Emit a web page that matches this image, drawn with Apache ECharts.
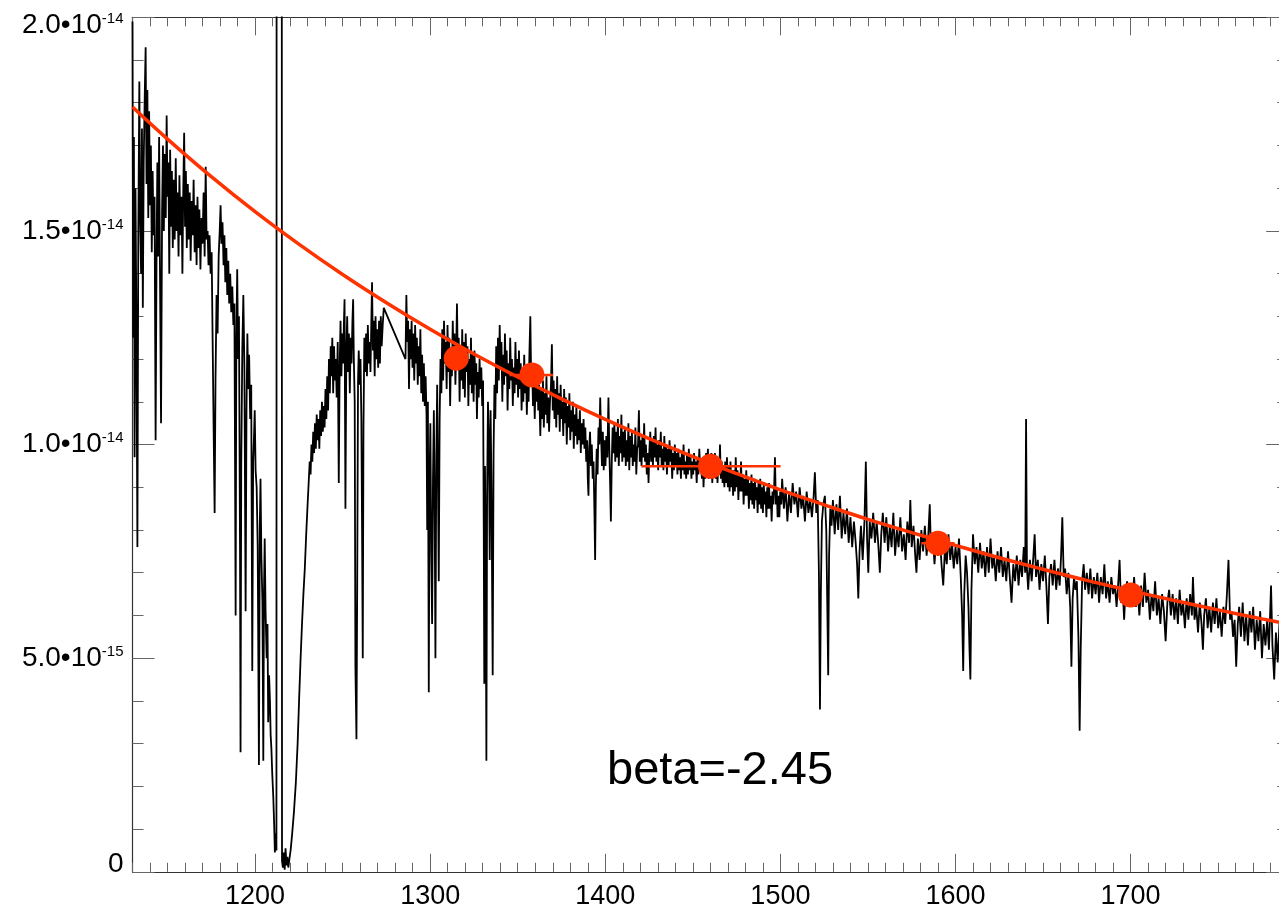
<!DOCTYPE html>
<html><head><meta charset="utf-8">
<script src="https://cdn.jsdelivr.net/npm/echarts@6/dist/echarts.min.js"></script>
<style>html,body{margin:0;padding:0;background:#fff}#c{width:1279px;height:913px}</style>
</head><body><div id="c"></div>
<script>
// ---- axis ranges / tick labels ----
const xMin = 1130, xMax = 1790;
const yMin = 0, yMax = 20;                 // flux in units of 1e-15
const xMajorTicks = [1200, 1300, 1400, 1500, 1600, 1700];
const yTickValues = [0, 5, 10, 15, 20];
const yTickMantissa = ['0', '5.0', '1.0', '1.5', '2.0'];
const yTickExponent = ['', '-15', '-14', '-14', '-14'];
const annotation = 'beta=-2.45';

// ---- spectrum (wavelength, flux/1e-15) ----
const specBlue = [[1130.0,19.9],[1130.4,12.5],[1130.8,17.2],[1131.2,9.7],[1131.7,16.0],[1132.2,13.0],[1132.8,7.6],[1133.3,14.8],[1133.9,18.5],[1134.4,15.2],[1134.9,14.0],[1135.4,17.4],[1135.9,13.2],[1136.4,16.6],[1137.0,18.2],[1137.5,19.3],[1138.0,16.1],[1138.5,18.3],[1139.0,15.3],[1139.5,17.8],[1140.0,15.6],[1140.5,17.0],[1141.0,14.5],[1141.5,16.4],[1142.0,14.9],[1142.6,15.8],[1143.2,10.1],[1143.7,14.2],[1144.2,16.6],[1144.7,14.4],[1145.2,17.2],[1145.7,14.0],[1146.3,10.5],[1146.9,15.5],[1147.4,17.0],[1147.9,15.0],[1148.4,16.8],[1149.0,15.3],[1149.5,17.7],[1150.0,15.8],[1150.5,16.6],[1151.0,14.0],[1151.5,16.9],[1152.0,15.1],[1152.5,16.4],[1153.0,14.6],[1153.6,16.2],[1154.1,14.8],[1154.7,16.7],[1155.2,15.0],[1155.7,15.9],[1156.3,14.4],[1156.8,16.3],[1157.4,14.9],[1158.0,15.8],[1158.5,14.0],[1159.0,16.0],[1159.5,17.3],[1160.0,15.1],[1160.5,16.4],[1161.0,14.6],[1161.6,16.1],[1162.1,14.8],[1162.7,15.9],[1163.2,14.3],[1163.8,15.7],[1164.4,14.9],[1164.9,16.2],[1165.5,14.5],[1166.0,15.6],[1166.6,14.2],[1167.1,15.8],[1167.7,14.6],[1168.2,15.5],[1168.8,14.1],[1169.4,15.3],[1170.0,14.7],[1170.6,15.9],[1171.2,14.4],[1171.8,16.5],[1172.3,14.8],[1172.9,15.0],[1173.4,14.2],[1174.0,14.9],[1174.6,14.0],[1175.2,14.5],[1175.8,12.3],[1176.4,10.1],[1176.9,8.4],[1177.4,11.5],[1178.0,13.5],[1178.6,12.6],[1179.2,14.4],[1179.8,15.0],[1180.3,15.6],[1180.8,14.7],[1181.4,15.2],[1182.0,14.2],[1182.5,14.9],[1183.0,13.8],[1183.6,14.6],[1184.1,13.5],[1184.7,14.3],[1185.2,13.3],[1185.8,14.0],[1186.4,13.1],[1187.0,13.7],[1187.6,12.8],[1188.2,13.3],[1188.9,6.0],[1189.3,12.5],[1189.8,14.1],[1190.3,12.0],[1190.8,13.0],[1191.4,7.5],[1191.7,2.8],[1192.1,9.5],[1192.7,12.2],[1193.3,13.5],[1193.9,11.8],[1194.6,6.1],[1195.1,10.8],[1195.6,12.6],[1196.1,11.3],[1196.6,12.1],[1197.2,10.6],[1197.8,11.4],[1198.4,4.7],[1198.9,9.6],[1199.4,10.2],[1199.8,10.8],[1200.3,9.4],[1200.9,9.0],[1201.5,7.6],[1202.2,2.5],[1202.7,8.1],[1203.1,9.2],[1203.6,7.4],[1204.2,6.3],[1204.7,2.6],[1205.1,6.6],[1205.5,7.8],[1206.0,6.1],[1206.6,5.0],[1207.1,5.8],[1207.5,3.5],[1208.0,4.6],[1208.5,4.0],[1208.9,3.2],[1209.3,2.9],[1209.8,2.3],[1210.4,1.75],[1210.9,1.1],[1211.3,0.45],[1211.8,0.9],[1212.2,0.5]];

const specLya = [[1212.4,45],[1215.1,45],[1215.4,0.25],[1215.9,0.1],[1216.4,0.45],[1216.9,0.05],[1217.4,0.55],[1217.9,0.15],[1218.4,0.35],[1219.0,0.1],[1219.6,0.3],[1220.3,0.5],[1221.2,0.9],[1222.2,1.4],[1223.3,2.1],[1224.3,3.0],[1225.2,4.1],[1226.0,5.0],[1226.8,5.8],[1227.6,6.5],[1228.4,7.1],[1229.2,7.9],[1230.0,8.6],[1230.6,9.1],[1231.2,9.6],[1231.7,9.3],[1232.2,10.0],[1232.7,9.6],[1233.2,10.3],[1233.7,9.8],[1234.2,10.5],[1234.7,9.9],[1235.2,10.7],[1235.7,10.1],[1236.2,10.6],[1236.7,9.9],[1237.2,10.8],[1237.7,10.2],[1238.2,11.0],[1238.7,10.3],[1239.2,10.9],[1239.7,10.4],[1240.2,11.3],[1240.7,10.6],[1241.2,11.6],[1241.7,10.8],[1242.2,12.0],[1242.7,11.2],[1243.2,12.3]];

const specMid = [[1243.6,11.6],[1244.1,12.5],[1244.6,11.2],[1245.1,12.3],[1245.6,11.5],[1246.1,12.0],[1246.6,11.1],[1247.2,12.4],[1247.8,9.1],[1248.3,11.8],[1248.8,12.9],[1249.3,11.6],[1249.8,12.6],[1250.3,11.9],[1250.7,12.8],[1251.1,13.4],[1251.6,8.5],[1252.1,12.1],[1252.6,13.0],[1253.1,11.7],[1253.6,12.6],[1254.1,11.2],[1254.6,12.5],[1255.1,11.9],[1255.6,12.9],[1256.0,13.4],[1256.4,12.0],[1256.9,11.0],[1257.3,4.8],[1257.9,3.1],[1258.3,6.5],[1258.8,11.5],[1259.2,12.2],[1259.7,11.4],[1260.2,12.0],[1260.7,10.6],[1261.1,8.0],[1261.5,5.0],[1261.9,10.4],[1262.4,12.5],[1262.9,11.7],[1263.4,12.6],[1263.9,11.6],[1264.4,12.8],[1264.9,11.9],[1265.4,12.4],[1265.9,11.7],[1266.4,12.9],[1266.8,13.8],[1267.3,12.2],[1267.8,12.9],[1268.3,11.6],[1268.8,13.0],[1269.3,12.0],[1269.8,12.7],[1270.3,11.8],[1270.8,12.9],[1271.3,11.9],[1271.8,13.0],[1272.3,12.3],[1272.9,12.8],[1273.5,13.2],[1285.9,12.0],[1286.4,13.5],[1286.9,12.4],[1287.4,12.9],[1287.9,11.3],[1288.4,12.7],[1288.9,12.0],[1289.4,12.9],[1289.9,11.8],[1290.4,12.6],[1290.9,11.5],[1291.4,12.8],[1291.9,11.9],[1292.4,12.5],[1292.9,11.4],[1293.4,12.3],[1293.9,11.6],[1294.4,12.7],[1294.9,11.2],[1295.4,12.1],[1295.9,11.0],[1296.4,11.9],[1296.9,10.9],[1297.4,11.6],[1297.9,10.7],[1298.3,8.0],[1298.7,11.0],[1299.2,4.2],[1299.6,9.0],[1300.1,10.5],[1300.6,7.5],[1301.1,5.8],[1301.6,9.2],[1302.1,10.8],[1302.6,8.2],[1303.0,5.0],[1303.5,9.7],[1304.0,11.4],[1304.5,8.9],[1304.9,6.8],[1305.4,10.6],[1305.9,12.0],[1306.4,11.2],[1306.9,12.7],[1307.4,11.5],[1307.9,12.9],[1308.4,11.9],[1308.9,12.4],[1309.4,11.3],[1309.9,12.8],[1310.4,11.7],[1310.9,12.5],[1311.4,10.9],[1311.9,12.2],[1312.4,11.6],[1312.9,12.9],[1313.4,11.8],[1313.9,12.6],[1314.4,11.4],[1314.9,12.3],[1315.3,13.3],[1315.8,11.9],[1316.3,12.5],[1316.8,11.0],[1317.3,12.2],[1317.8,11.5],[1318.3,12.7],[1318.8,11.3],[1319.3,12.4],[1319.8,11.1],[1320.3,12.6],[1320.8,11.7],[1321.3,12.3],[1321.8,10.9],[1322.3,12.0],[1322.8,11.4],[1323.3,12.5],[1323.8,11.2],[1324.3,12.1],[1324.8,11.0],[1325.3,12.2],[1325.8,11.4],[1326.3,11.9],[1326.7,10.6],[1327.2,11.7],[1327.7,11.1],[1328.2,12.0],[1328.7,11.3],[1329.2,11.8],[1329.7,10.9],[1330.2,11.5],[1330.6,8.0],[1330.9,4.4],[1331.3,9.5],[1331.7,7.0],[1332.1,2.6],[1332.5,8.8],[1333.0,11.0],[1333.5,10.2],[1334.0,7.3],[1334.5,10.8],[1335.0,9.0],[1335.7,4.6],[1336.2,9.8],[1336.7,11.4],[1337.2,10.6],[1337.7,12.3],[1338.2,11.2],[1338.7,12.5],[1339.2,11.5],[1339.7,12.8],[1340.2,11.8],[1340.7,12.4],[1341.2,11.0],[1341.7,12.1],[1342.2,11.4],[1342.7,12.6],[1343.2,11.6],[1343.7,12.2],[1344.2,10.8],[1344.7,11.9],[1345.2,11.3],[1345.7,12.5],[1346.2,11.5],[1346.7,12.0],[1347.2,10.9],[1347.7,11.8],[1348.2,11.2],[1348.7,12.4],[1349.2,11.4],[1349.7,12.0],[1350.2,11.1],[1350.7,12.2],[1351.2,11.3],[1351.7,11.9],[1352.2,10.8],[1352.7,11.7],[1353.2,11.0],[1353.7,12.1],[1354.2,11.2],[1354.7,11.8],[1355.2,10.7],[1355.7,11.6],[1356.2,11.0],[1356.7,12.2],[1357.2,13.0],[1357.7,11.4],[1358.2,11.9],[1358.7,10.9],[1359.2,11.6],[1359.7,10.6],[1360.2,11.5],[1360.7,11.0],[1361.2,11.8],[1361.7,10.8],[1362.2,11.4],[1362.9,10.2],[1363.4,11.3],[1363.9,10.6],[1364.4,11.5],[1364.9,10.4],[1365.4,11.2],[1365.9,10.7],[1366.4,11.6],[1366.9,10.5],[1367.4,11.1],[1367.9,10.3],[1368.4,11.0],[1369.0,11.4],[1369.5,12.35],[1370.0,10.8]];

const specGreen = [[1370.5,11.5],[1371.0,10.6],[1371.5,11.3],[1372.0,10.4],[1372.5,11.6],[1373.0,10.7],[1373.5,11.2],[1374.0,10.3],[1374.5,11.4],[1375.0,10.6],[1375.5,11.0],[1376.0,10.2],[1376.5,11.3],[1377.0,10.5],[1377.5,11.1],[1378.0,10.0],[1378.5,10.9],[1379.0,10.4],[1379.5,11.2],[1380.0,10.1],[1380.5,10.8],[1381.0,10.3],[1381.5,11.0],[1382.0,9.9],[1382.5,10.7],[1383.0,10.2],[1383.5,10.9],[1384.0,10.0],[1384.5,10.6],[1385.0,10.1],[1385.5,10.8],[1386.0,9.8],[1386.5,10.5],[1387.0,10.0],[1387.6,10.6],[1388.1,9.9],[1388.6,10.4],[1389.1,9.6],[1389.6,10.1],[1390.0,9.2],[1390.4,8.8],[1390.8,9.9],[1391.3,10.3],[1391.8,9.5],[1392.3,10.0],[1392.8,9.2],[1393.3,9.6],[1393.8,8.4],[1394.2,7.3],[1394.6,9.0],[1395.1,9.9],[1395.6,9.3],[1396.1,10.4],[1396.6,10.0],[1397.1,11.1],[1397.6,10.2],[1398.1,9.5],[1398.6,10.3],[1399.1,9.4],[1399.6,10.1],[1400.1,9.5],[1400.6,10.2],[1401.2,9.7],[1401.8,11.1],[1402.3,9.9],[1402.8,9.0],[1403.2,8.2],[1403.7,9.6],[1404.2,10.4],[1404.7,9.8],[1405.2,10.5],[1405.7,9.6],[1406.2,10.3],[1406.7,9.7],[1407.2,10.6],[1407.7,9.5],[1408.2,10.2],[1408.7,9.8],[1409.2,10.7],[1409.7,9.6],[1410.2,10.3],[1410.7,9.7],[1411.2,10.4],[1411.7,9.5],[1412.2,10.1],[1412.7,9.6],[1413.2,10.5],[1413.7,9.4],[1414.2,10.2],[1414.7,9.7],[1415.2,10.3],[1415.7,9.5],[1416.2,10.0],[1416.7,9.6],[1417.2,10.4],[1417.7,9.3],[1418.2,9.9],[1418.7,10.0],[1419.2,10.8],[1419.7,9.6],[1420.2,10.1],[1420.7,9.5],[1421.2,10.2],[1421.7,9.7],[1422.2,10.5],[1422.7,9.6],[1423.2,10.0],[1423.7,9.3],[1424.2,9.8],[1424.7,9.1],[1425.2,9.9],[1425.7,10.3],[1426.2,9.6],[1426.7,10.1],[1427.2,9.5],[1427.7,10.2],[1428.2,9.7],[1428.7,10.4],[1429.2,9.6],[1429.7,10.0],[1430.2,9.4],[1430.7,10.1],[1431.2,9.7],[1431.7,10.3],[1432.2,9.5],[1432.7,9.9],[1433.2,9.4],[1433.7,10.2],[1434.2,9.6],[1434.7,10.0],[1435.2,9.3],[1435.7,9.9],[1436.2,9.5],[1436.7,10.1],[1437.2,9.6],[1437.7,9.9],[1438.2,9.2],[1438.7,9.8],[1439.2,9.4],[1439.7,10.0],[1440.2,9.5],[1440.7,9.8],[1441.2,9.3],[1441.7,9.9],[1442.2,9.4],[1442.7,9.7],[1443.2,9.2],[1443.7,9.8],[1444.2,9.4],[1444.7,10.0],[1445.2,9.3],[1445.7,9.6],[1446.2,9.2],[1446.7,9.8],[1447.2,9.3],[1447.7,9.9],[1448.2,9.4],[1448.7,9.7],[1449.2,9.2],[1449.7,9.6],[1450.2,9.3],[1450.7,9.8],[1451.2,9.4],[1451.7,9.6],[1452.2,9.1],[1452.7,9.7],[1453.2,9.3],[1453.7,9.9],[1454.2,9.4],[1454.7,9.5],[1455.2,9.2],[1455.7,9.7],[1456.1,9.0],[1456.6,9.6],[1457.1,9.2],[1457.6,9.8],[1458.1,9.3],[1458.6,9.9],[1459.1,9.2],[1459.6,9.7],[1460.1,9.3],[1460.6,9.8],[1461.1,9.1],[1461.6,9.6],[1462.1,9.3],[1462.6,9.8],[1463.1,9.2],[1463.6,9.6],[1464.1,9.1],[1464.6,9.7],[1465.1,9.3],[1465.5,10.0],[1466.0,9.2],[1466.5,9.6],[1467.0,9.1],[1467.5,9.5],[1468.0,9.0],[1468.5,9.6],[1469.0,9.1],[1469.5,9.7],[1470.0,9.0],[1470.5,9.5],[1471.0,8.9],[1471.5,9.6],[1472.0,9.0],[1472.5,9.4],[1473.0,8.8],[1473.5,9.4],[1474.0,8.9],[1474.5,9.7],[1475.0,9.0],[1475.5,9.4],[1476.0,8.7],[1476.5,9.3],[1477.0,8.9],[1477.5,9.6],[1478.0,8.9],[1478.5,9.3],[1479.0,8.6],[1479.5,9.2],[1480.0,8.8],[1480.5,9.4],[1481.0,8.8],[1481.5,9.2],[1482.0,8.5],[1482.5,9.1],[1483.0,8.7],[1483.5,9.3],[1484.0,8.6],[1484.5,9.1],[1485.0,8.5],[1485.5,9.2],[1486.0,8.7],[1486.5,9.0],[1487.0,8.4],[1487.5,9.1],[1488.0,8.6],[1488.5,9.2],[1489.0,8.5],[1489.5,9.0],[1490.0,8.4],[1490.5,9.1],[1491.0,8.6],[1491.5,8.9],[1492.0,8.3],[1492.5,9.0],[1493.0,8.5],[1493.5,9.1],[1494.0,8.5],[1494.5,8.8],[1495.0,8.2],[1495.5,8.9],[1496.0,8.6],[1496.5,9.1],[1496.9,9.7],[1497.4,8.6],[1497.9,9.0],[1498.4,8.3],[1498.9,8.8],[1499.4,8.3],[1499.9,8.9]];

const specRed = [[1500.5,8.6],[1501,9.2],[1502,8.5],[1503,9.0],[1504,8.2],[1505,8.9],[1506,8.4],[1507,9.1],[1508,8.6],[1509,8.9],[1510,8.3],[1511,9.0],[1512,8.5],[1513,8.8],[1514,8.2],[1515,8.9],[1516,8.4],[1517,8.7],[1518,8.3],[1519,8.8],[1519.7,9.35],[1520.5,8.4],[1521.3,8.7],[1522.0,7.0],[1522.6,3.8],[1523.1,6.5],[1523.7,8.2],[1524.5,8.6],[1525.4,8.8],[1526.2,8.0],[1526.8,6.2],[1527.3,4.6],[1527.8,7.4],[1528.5,8.5],[1529.2,8.1],[1530,8.7],[1531,7.9],[1532,8.6],[1533,8.0],[1534,8.8],[1535,7.8],[1536,8.4],[1537,7.9],[1538,8.5],[1539,7.7],[1540,8.3],[1541,7.6],[1542,8.2],[1543,7.7],[1543.8,7.2],[1544.5,6.4],[1545.2,7.5],[1546,8.1],[1547,7.3],[1548,8.2],[1548.8,9.6],[1549.5,7.8],[1550.2,7.0],[1551,8.2],[1552,7.8],[1553,8.4],[1554,7.7],[1555,8.2],[1556,7.6],[1556.8,7.0],[1557.6,7.9],[1558.5,8.4],[1559.5,7.7],[1560.5,8.3],[1561.5,7.5],[1562.5,8.1],[1563.5,7.6],[1564.5,8.4],[1565.5,7.4],[1566.5,8.0],[1567.5,7.6],[1568.5,8.3],[1569.5,7.5],[1570.5,7.9],[1571.5,7.3],[1572.5,8.2],[1573.5,7.7],[1574.2,8.7],[1575,7.6],[1576,8.1],[1577,7.4],[1577.7,7.0],[1578.5,7.8],[1579.5,7.3],[1580.5,8.0],[1581.5,7.5],[1582.5,8.1],[1583.5,7.4],[1584.5,7.9],[1585.3,8.6],[1586,7.5],[1587,7.9],[1588,7.2],[1589,7.8],[1590,7.4],[1591,7.9],[1592,7.2],[1593,6.7],[1594,7.6],[1595,7.2],[1596,7.9],[1597,7.3],[1598,7.7],[1599,7.1],[1600,7.6],[1601,7.2],[1602,7.8],[1603,6.9],[1603.8,6.0],[1604.4,4.7],[1605,6.5],[1605.8,7.4],[1606.6,7.0],[1607.4,6.2],[1608,5.2],[1608.5,4.5],[1609.1,6.6],[1610,7.9],[1611,7.2],[1612,7.6],[1613,7.0],[1614,7.7],[1615,7.1],[1616,7.5],[1617,6.9],[1618,7.6],[1619,7.0],[1620,7.8],[1621,7.1],[1622,7.4],[1623,6.8],[1624,7.5],[1625,7.0],[1626,7.6],[1627,6.9],[1628,7.3],[1629,6.8],[1630,7.5],[1631,6.9],[1632,6.3],[1633,7.2],[1634,6.8],[1635,7.4],[1636,6.7],[1637,7.3],[1638,6.9],[1639,7.6],[1639.8,7.0],[1640.3,10.6],[1640.8,7.1],[1641.5,6.6],[1642.5,7.3],[1643.5,6.8],[1644.5,7.4],[1645.2,7.9],[1646,6.9],[1647,7.3],[1648,6.6],[1649,7.2],[1650,6.8],[1651,7.4],[1652,6.6],[1652.8,5.8],[1653.6,6.9],[1654.6,7.2],[1655.5,6.7],[1656.5,7.3],[1657.5,6.6],[1658.5,7.1],[1659.5,6.7],[1660.3,7.4],[1661,8.3],[1661.8,6.9],[1662.6,7.1],[1663.5,6.5],[1664.5,7.0],[1665.5,6.2],[1666.2,4.8],[1666.9,6.4],[1667.7,6.9],[1668.5,6.6],[1669.3,6.8],[1670.2,5.5],[1670.9,3.3],[1671.5,5.2],[1672.3,6.8],[1673.2,7.2],[1674,6.6],[1675,7.0],[1676,6.5],[1677,7.1],[1678,6.4],[1679,6.9],[1680,6.5],[1681,7.0],[1682,6.3],[1683,6.9],[1684,6.5],[1685,7.2],[1686,6.4],[1687,6.8],[1688,6.3],[1689,6.9],[1690,6.5],[1691,6.7],[1692,6.2],[1693,6.8],[1693.7,7.3],[1694.5,6.3],[1695.5,6.6],[1696.3,5.9],[1697,6.5],[1698,6.8],[1699,6.2],[1700,6.7],[1701,6.3],[1702,6.9],[1703,6.2],[1704,6.6],[1705,6.0],[1706,6.7],[1707,6.2],[1708,7.0],[1709,6.3],[1710,6.6],[1711,5.9],[1712,6.5],[1713,6.1],[1714,6.8],[1715,6.0],[1716,6.4],[1717,5.8],[1718,6.5],[1719,6.1],[1720,5.4],[1721,6.3],[1722,6.6],[1723,6.0],[1724,6.5],[1725,5.9],[1726,6.4],[1727,5.8],[1728,6.6],[1729,6.0],[1730,6.3],[1731,5.7],[1732,6.4],[1733,5.9],[1734,6.5],[1735,6.0],[1735.6,6.9],[1736.5,5.9],[1737.5,6.2],[1738.5,5.6],[1739.5,6.3],[1740.5,5.8],[1741.3,5.2],[1742,6.0],[1743,6.4],[1744,5.7],[1745,6.2],[1746,5.6],[1747,6.3],[1748,5.8],[1749,6.4],[1750,5.7],[1751,6.1],[1752,5.5],[1753,6.2],[1754,5.8],[1755,6.5],[1755.9,7.3],[1756.8,5.9],[1757.6,6.1],[1758.5,5.5],[1759.4,5.9],[1760.3,4.8],[1761.2,5.8],[1762,6.2],[1763,5.5],[1764,6.3],[1765,5.4],[1766,6.0],[1767,5.3],[1768,6.1],[1769,5.6],[1770,6.2],[1771,5.2],[1772,5.9],[1773,5.4],[1774,6.1],[1775,5.0],[1776,5.8],[1777,5.3],[1778,5.9],[1779,5.2],[1780.2,6.7],[1781,5.3],[1782,4.5],[1783,5.6],[1784,4.9],[1785,5.8],[1786,5.0],[1787,5.6],[1788,4.8],[1789,5.4],[1790,5.1]];

// ---- power-law fit curve ----
const fitWave = [1130,1150,1175,1200,1225,1250,1275,1300,1325,1350,1375,1400,1425,1450,1475,1500,1525,1550,1575,1600,1625,1650,1675,1700,1725,1750,1775,1790];
const fitFlux = [17.90,17.15,16.27,15.45,14.69,13.98,13.32,12.70,12.12,11.58,11.07,10.59,10.14,9.72,9.32,8.94,8.59,8.25,7.94,7.64,7.35,7.08,6.82,6.58,6.35,6.13,5.92,5.80];

// ---- continuum windows (dots with horizontal bars) ----
const dotWave = [1314.9, 1358.1, 1460.1, 1590.0, 1700.0];
const dotFlux = [12.02, 11.63, 9.49, 7.69, 6.48];
const dotLo   = [1310.5, 1345.3, 1420.6, 1580.5, 1695.0];
const dotHi   = [1319.5, 1370.1, 1500.1, 1599.5, 1705.0];

// ---- build ----
const FONT = '"Liberation Sans", Arial, Helvetica, sans-serif';
const RED = '#ff3300';
const spectrum = specBlue.concat(specLya, specMid, specGreen, specRed);
const fitData = fitWave.map((w, i) => [w, fitFlux[i]]);
const dotData = dotWave.map((w, i) => [w, dotFlux[i]]);
const barData = dotWave.map((w, i) => [w, dotLo[i], dotHi[i], dotFlux[i]]);

const axisLineStyle = { color: '#333', width: 1.2 };
const tickStyle = { color: '#666', width: 1 };

function xAxisCfg(pos, major, labels) {
  const a = {
    type: 'value', position: pos, min: xMin, max: xMax,
    splitLine: { show: false },
    axisLine: { show: !major, onZero: false, lineStyle: axisLineStyle },
    axisTick: { show: true, inside: true, length: major ? 18 : 9, lineStyle: tickStyle },
    axisLabel: { show: false }
  };
  if (major) {
    a.axisTick.customValues = xMajorTicks;
    a.axisLabel = labels ? { show: true, customValues: xMajorTicks, margin: 11,
      formatter: v => String(v),
      fontSize: 27, fontFamily: FONT, color: '#000' } : { show: false };
  } else {
    a.interval = 10;
  }
  return a;
}
function yLabel(v) {
  const i = yTickValues.indexOf(v);
  if (i < 0) return '';
  if (v === 0) return '{m|0}\n{sp| }';
  const txt = '{m|' + yTickMantissa[i] + '•10}{e|' + yTickExponent[i] + '}';
  if (v === yMax) return '{sp| }\n' + txt;
  return txt;
}
function yAxisCfg(pos, major, labels) {
  return {
    type: 'value', position: pos, min: yMin, max: yMax, interval: major ? 5 : 1,
    splitLine: { show: false },
    axisLine: { show: !major, onZero: false, lineStyle: axisLineStyle },
    axisTick: { show: true, inside: true, length: major ? 22 : 11, lineStyle: tickStyle },
    axisLabel: labels ? {
      show: true, margin: 9, formatter: yLabel,
      rich: {
        m: { fontSize: 28, fontFamily: FONT, color: '#000' },
        e: { fontSize: 15, fontFamily: FONT, color: '#000', verticalAlign: 'top' },
        sp: { fontSize: 1, lineHeight: 16 }
      }
    } : { show: false }
  };
}

const chart = echarts.init(document.getElementById('c'), null, { renderer: 'canvas' });
chart.setOption({
  animation: false,
  backgroundColor: '#fff',
  grid: { left: 132.5, width: 1155.7, top: 17.3, height: 854.5, containLabel: false, outerBoundsMode: 'none' },
  xAxis: [xAxisCfg('bottom', false), xAxisCfg('bottom', true, true), xAxisCfg('top', false), xAxisCfg('top', true, false)],
  yAxis: [yAxisCfg('left', false), yAxisCfg('left', true, true), yAxisCfg('right', false), yAxisCfg('right', true, false)],
  series: [
    { type: 'line', data: spectrum, xAxisIndex: 0, yAxisIndex: 0, symbol: 'none', clip: true,
      lineStyle: { color: '#000', width: 1.8 }, z: 2 },
    { type: 'line', data: fitData, xAxisIndex: 0, yAxisIndex: 0, symbol: 'none', smooth: 0.4, clip: true,
      lineStyle: { color: RED, width: 3.5 }, z: 3 },
    { type: 'custom', data: barData, xAxisIndex: 0, yAxisIndex: 0, z: 4,
      encode: { x: [1, 2], y: 3 },
      renderItem: function (params, api) {
        const y = api.value(3);
        const p1 = api.coord([api.value(1), y]);
        const p2 = api.coord([api.value(2), y]);
        return { type: 'line', shape: { x1: p1[0], y1: p1[1], x2: p2[0], y2: p2[1] },
          style: { stroke: RED, lineWidth: 2.5 } };
      } },
    { type: 'scatter', data: dotData, xAxisIndex: 0, yAxisIndex: 0, symbol: 'circle', symbolSize: 25,
      itemStyle: { color: RED, opacity: 1 }, z: 5 }
  ],
  graphic: [{
    type: 'text', left: 607, top: 748, z: 10,
    style: { text: annotation, font: '47px ' + FONT, fill: '#000' }
  }]
});
</script>
</body></html>
